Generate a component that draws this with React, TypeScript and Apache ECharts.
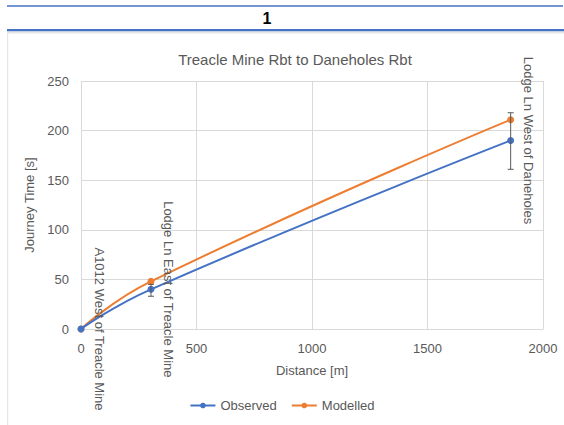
import React, { useEffect, useRef } from "react";
import * as echarts from "echarts";

const distances = [0, 303, 1860];
const observed = [0, 40, 190];
const modelled = [0, 48, 211];
const errLow = [0, 33, 161];
const errHigh = [0, 45, 218];
const pointNames = [
  "A1012 West of Treacle Mine",
  "Lodge Ln East of Treacle Mine",
  "Lodge Ln West of Daneholes",
];
const yTicks = [0, 50, 100, 150, 200, 250];
const xTicks = [0, 500, 1000, 1500, 2000];

const FONT = "Liberation Sans";
const GREY = "#595959";

export default function App() {
  const ref = useRef<HTMLDivElement>(null);
  useEffect(() => {
    document.body.style.margin = "0";
    const chart = echarts.init(ref.current!, null, { renderer: "svg" });
    const obsData = distances.map((d, i) => [d, observed[i]]);
    const modData = distances.map((d, i) => [d, modelled[i]]);
    const errData = distances
      .map((d, i) => [d, errLow[i], errHigh[i]])
      .filter((e) => e[2] > e[1]);
    chart.setOption({
      animation: false,
      backgroundColor: "#fff",
      textStyle: { fontFamily: FONT },
      title: {
        text: "Treacle Mine Rbt to Daneholes Rbt",
        left: 290,
        textAlign: "center",
        top: 47,
        textStyle: { fontFamily: FONT, fontSize: 15, fontWeight: "normal", color: GREY },
      },
      graphic: [
        { type: "line", shape: { x1: 7, y1: 6, x2: 563, y2: 6 }, style: { stroke: "#4472C4", lineWidth: 1.5 } },
        {
          type: "text",
          x: 267,
          y: 18,
          style: { text: "1", font: `bold 16px "${FONT}"`, fill: "#000", align: "center", verticalAlign: "middle" },
        },
        { type: "rect", shape: { x: 7, y: 29, width: 557, height: 2.5 }, style: { fill: "#4472C4" } },
        { type: "rect", shape: { x: 7, y: 31.5, width: 557, height: 2 }, style: { fill: "#E6E6E6" } },
        { type: "rect", shape: { x: 7, y: 33, width: 1.2, height: 392 }, style: { fill: "#E6E6E6" } },
      ],
      legend: {
        bottom: 8,
        left: "center",
        itemGap: 14,
        itemWidth: 25,
        itemHeight: 7,
        textStyle: { fontFamily: FONT, fontSize: 13, color: GREY },
        data: ["Observed", "Modelled"],
      },
      grid: { left: 81, right: 21, top: 81, bottom: 96 },
      xAxis: {
        type: "value",
        min: xTicks[0],
        max: xTicks[xTicks.length - 1],
        interval: 500,
        name: "Distance [m]",
        nameLocation: "middle",
        nameGap: 35,
        nameTextStyle: { fontFamily: FONT, fontSize: 13, color: GREY },
        axisLine: { show: true, lineStyle: { color: "#D9D9D9" } },
        axisTick: { show: false },
        axisLabel: { fontFamily: FONT, fontSize: 13, color: GREY, margin: 13, formatter: (v: number) => String(v) },
        splitLine: { show: true, lineStyle: { color: "#D9D9D9" } },
      },
      yAxis: {
        type: "value",
        min: yTicks[0],
        max: yTicks[yTicks.length - 1],
        interval: 50,
        name: "Journey Time [s]",
        nameLocation: "middle",
        nameGap: 38,
        nameTextStyle: { fontFamily: FONT, fontSize: 13, color: GREY },
        axisLine: { show: false },
        axisTick: { show: false },
        axisLabel: { fontFamily: FONT, fontSize: 13, color: GREY, margin: 12 },
        splitLine: { show: true, lineStyle: { color: "#D9D9D9" } },
      },
      series: [
        {
          name: "Observed",
          type: "line",
          data: obsData,
          smooth: 0.5,
          symbol: "circle",
          symbolSize: 7,
          itemStyle: { color: "#4472C4" },
          lineStyle: { color: "#4472C4", width: 2 },
          z: 3,
          label: {
            show: true,
            position: "right",
            distance: 8,
            rotate: -90,
            align: "center",
            verticalAlign: "bottom",
            fontFamily: FONT,
            fontSize: 13,
            color: GREY,
            formatter: (p: any) => pointNames[p.dataIndex],
          },
        },
        {
          name: "Modelled",
          type: "line",
          data: modData,
          smooth: 0.5,
          symbol: "circle",
          symbolSize: 7,
          itemStyle: { color: "#ED7D31" },
          lineStyle: { color: "#ED7D31", width: 2 },
          z: 2,
        },
        {
          name: "err",
          type: "custom",
          data: errData,
          z: 4,
          renderItem: (params: any, api: any) => {
            const x = api.value(0);
            const lo = api.coord([x, api.value(1)]);
            const hi = api.coord([x, api.value(2)]);
            const w = 3;
            const style = { stroke: "#595959", lineWidth: 1 };
            return {
              type: "group",
              children: [
                { type: "line", shape: { x1: lo[0], y1: lo[1], x2: hi[0], y2: hi[1] }, style },
                { type: "line", shape: { x1: lo[0] - w, y1: lo[1], x2: lo[0] + w, y2: lo[1] }, style },
                { type: "line", shape: { x1: hi[0] - w, y1: hi[1], x2: hi[0] + w, y2: hi[1] }, style },
              ],
            };
          },
        },
      ],
    });
    return () => chart.dispose();
  }, []);
  return (
    <div
      ref={ref}
      style={{ width: 564, height: 425, position: "absolute", left: 0, top: 0 }}
    />
  );
}
